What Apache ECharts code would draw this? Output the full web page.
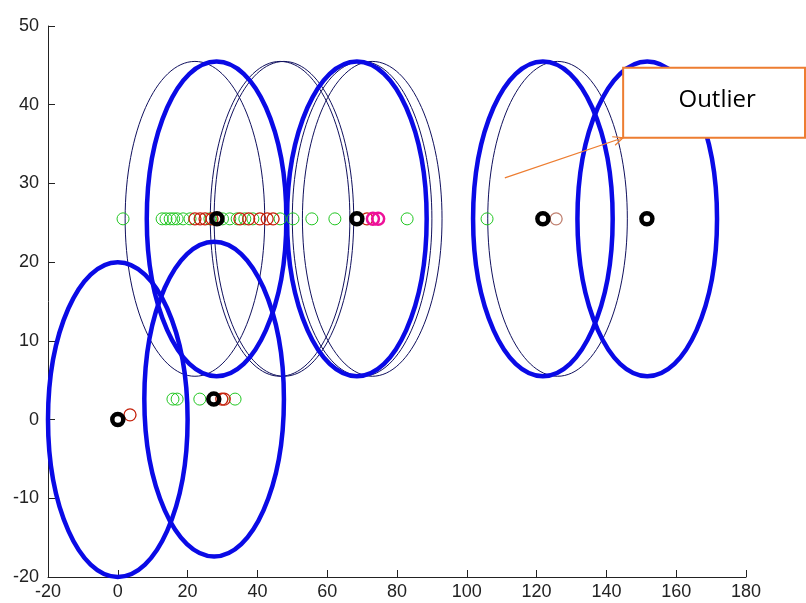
<!DOCTYPE html>
<html><head><meta charset="utf-8">
<script src="https://cdn.jsdelivr.net/npm/echarts@6/dist/echarts.min.js"></script>
<style>html,body{margin:0;padding:0;background:#fff}#c{width:806px;height:603px}</style>
</head><body><div id="c"></div>
<script>
// axis settings
const xRange = [-20, 180, 20];
const yRange = [-20, 50, 10];

// ellipses: [centerX, centerY, radiusX, radiusY]
const thickEllipses = [
  [0, 0, 20, 20],
  [27.6, 2.6, 20, 20],
  [28.3, 25.5, 20, 20],
  [68.5, 25.5, 20, 20],
  [121.8, 25.5, 20, 20],
  [151.7, 25.5, 20, 20]
];
const thinEllipses = [
  [22.1, 25.5, 20, 20],
  [46.5, 25.5, 20, 20],
  [47.6, 25.5, 20, 20],
  [70.0, 25.5, 20, 20],
  [72.9, 25.5, 20, 20],
  [126.0, 25.5, 20, 20]
];

// points
const greenPoints = [
  [1.5, 25.5], [12.7, 25.5], [13.8, 25.5], [15.0, 25.5], [16.0, 25.5], [17.0, 25.5],
  [18.7, 25.5], [20.7, 25.5], [26.4, 25.5], [30.0, 25.5], [32.1, 25.5], [34.2, 25.5],
  [36.4, 25.5], [38.7, 25.5], [46.5, 25.5], [50.2, 25.5], [55.6, 25.5], [62.2, 25.5],
  [82.9, 25.5], [105.8, 25.5],
  [15.8, 2.6], [17.0, 2.6], [23.5, 2.6], [33.6, 2.6]
];
const redPoints = [
  [22.1, 25.5], [23.6, 25.5], [25.0, 25.5], [27.0, 25.5], [35.0, 25.5], [37.5, 25.5],
  [40.7, 25.5], [42.8, 25.5], [44.5, 25.5], [71.4, 25.5],
  [29.8, 2.6], [30.5, 2.6], [3.5, 0.6]
];
const palePoints = [[125.6, 25.5]];
const magentaPoints = [[73.1, 25.5], [74.6, 25.5]];
const blackPoints = [[0, 0], [27.5, 2.6], [28.4, 25.5], [68.5, 25.5], [121.8, 25.5], [151.6, 25.5]];

// annotation (data coordinates)
const calloutText = 'Outlier';
const arrowTail = [110.9, 30.7];
const boxCorner = [144.8, 44.7];   // top-left of callout box
const boxBottom = 35.8;

const chart = echarts.init(document.getElementById('c'), null, {renderer: 'canvas'});

function ellipseSeries(data, color, width) {
  return {
    type: 'custom',
    data: data,
    encode: {x: 0, y: 1},
    clip: false,
    silent: true,
    z: 2,
    renderItem: function (params, api) {
      const c = api.coord([api.value(0), api.value(1)]);
      const s = api.size([api.value(2), api.value(3)]);
      return {
        type: 'ellipse',
        shape: {cx: c[0], cy: c[1], rx: s[0], ry: s[1]},
        style: {fill: 'none', stroke: color, lineWidth: width}
      };
    }
  };
}
function scatterSeries(data, color, size, bw, z) {
  return {
    type: 'scatter',
    data: data,
    symbol: 'circle',
    symbolSize: size,
    silent: true,
    z: z,
    itemStyle: {color: 'rgba(255,255,255,0)', borderColor: color, borderWidth: bw, opacity: 1}
  };
}

const axisCommon = {
  type: 'value',
  axisLine: {show: true, onZero: false, lineStyle: {color: '#222', width: 1}},
  axisTick: {show: true, inside: true, length: 7, lineStyle: {color: '#222'}},
  splitLine: {show: false},
  axisLabel: {color: '#222', fontSize: 18, fontFamily: 'Liberation Sans'}
};

chart.setOption({
  animation: false,
  backgroundColor: '#fff',
  grid: {left: 48, right: 60, top: 26, bottom: 26, containLabel: false},
  xAxis: Object.assign({}, axisCommon, {min: xRange[0], max: xRange[1], interval: xRange[2],
    axisLabel: Object.assign({}, axisCommon.axisLabel, {margin: 6})}),
  yAxis: Object.assign({}, axisCommon, {min: yRange[0], max: yRange[1], interval: yRange[2],
    axisLabel: Object.assign({}, axisCommon.axisLabel, {margin: 9})}),
  series: [
    ellipseSeries(thinEllipses, '#10105e', 1),
    ellipseSeries(thickEllipses, '#0a0ae6', 4.5),
    scatterSeries(greenPoints, '#22c722', 12, 1, 3),
    scatterSeries(redPoints, '#c4200a', 12, 1.3, 4),
    scatterSeries(palePoints, '#c08070', 12, 1.3, 4),
    scatterSeries(magentaPoints, '#ee1199', 12, 2.5, 5),
    scatterSeries(blackPoints, '#000', 11, 4.5, 6)
  ]
});

// callout annotation
const tail = chart.convertToPixel({gridIndex: 0}, arrowTail);
const tl = chart.convertToPixel({gridIndex: 0}, boxCorner);
const bl = chart.convertToPixel({gridIndex: 0}, [boxCorner[0], boxBottom]);
const boxW = 806 - tl[0] - 1;
const boxH = bl[1] - tl[1];
const dx = tail[0] - bl[0], dy = tail[1] - bl[1];
const L = Math.sqrt(dx * dx + dy * dy);
const ux = dx / L, uy = dy / L;
const ang = 24 * Math.PI / 180, al = 11;
function rot(a) { return [bl[0] + al * (ux * Math.cos(a) - uy * Math.sin(a)), bl[1] + al * (ux * Math.sin(a) + uy * Math.cos(a))]; }
const a1 = rot(ang), a2 = rot(-ang);

chart.setOption({
  graphic: [
    {type: 'line', z: 100, shape: {x1: tail[0], y1: tail[1], x2: bl[0], y2: bl[1]}, style: {stroke: '#ed7d31', lineWidth: 1.2}},
    {type: 'polyline', z: 100, shape: {points: [a1, [bl[0], bl[1]], a2]}, style: {stroke: '#ed7d31', lineWidth: 1.2, fill: 'none'}},
    {type: 'rect', z: 100, shape: {x: tl[0], y: tl[1], width: boxW, height: boxH},
      style: {fill: '#fff', stroke: '#ed7d31', lineWidth: 2}},
    {type: 'text', z: 101, x: tl[0] + 94, y: tl[1] + boxH / 2 - 3,
      style: {text: calloutText, fill: '#000', font: '24px "Open Sans"', align: 'center', verticalAlign: 'middle'}}
  ]
});
</script>
</body></html>
